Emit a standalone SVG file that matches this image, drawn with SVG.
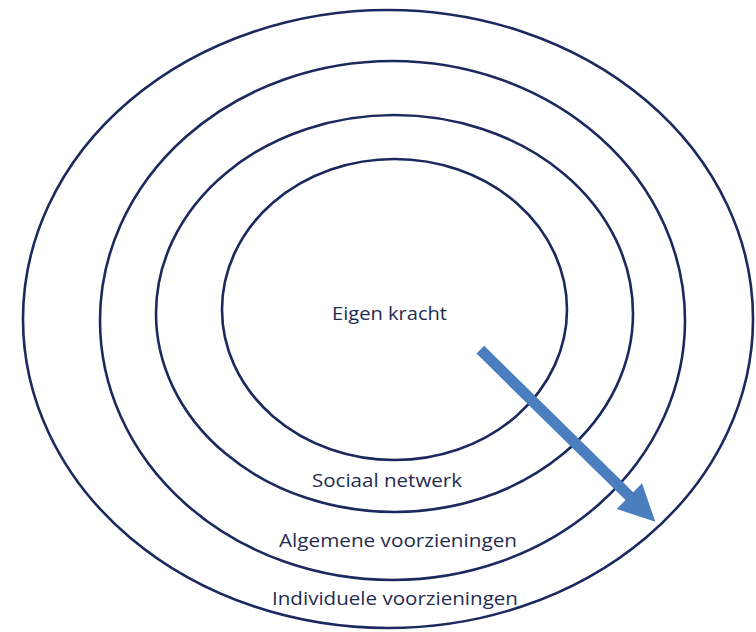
<svg xmlns="http://www.w3.org/2000/svg" width="756" height="632" viewBox="0 0 756 632">
  <style>
    .ring { fill: none; stroke: #1b2a5e; stroke-width: 2.6; }
    .lbl { font-family: "Open Sans", "Liberation Sans", sans-serif; font-size: 17.5px; fill: #1f2c50; }
    .arrow { fill: #4a7ebe; }
  </style>
  <rect width="756" height="632" fill="#ffffff"/>
  <g id="individuele-voorzieningen">
    <ellipse class="ring" cx="388" cy="319" rx="365" ry="309"/>
    <text class="lbl" x="272" y="605" textLength="246" lengthAdjust="spacingAndGlyphs">Individuele voorzieningen</text>
  </g>
  <g id="algemene-voorzieningen">
    <ellipse class="ring" cx="392.5" cy="320.5" rx="292.5" ry="259.5"/>
    <text class="lbl" x="279" y="547" textLength="238" lengthAdjust="spacingAndGlyphs">Algemene voorzieningen</text>
  </g>
  <g id="sociaal-netwerk">
    <ellipse class="ring" cx="394.5" cy="313.5" rx="238.5" ry="198.5"/>
    <text class="lbl" x="312" y="487" textLength="150" lengthAdjust="spacingAndGlyphs">Sociaal netwerk</text>
  </g>
  <g id="eigen-kracht">
    <ellipse class="ring" cx="394.5" cy="309.5" rx="172.5" ry="150.5"/>
    <text class="lbl" x="332" y="320" font-size="18" textLength="115" lengthAdjust="spacingAndGlyphs">Eigen kracht</text>
  </g>
  <g id="connectors">
    <polygon class="arrow" transform="translate(480.3,349.7) rotate(44.5)" points="0,-5.5 209,-5.5 209,-18 245.4,0 209,18 209,5.5 0,5.5"/>
  </g>
</svg>
